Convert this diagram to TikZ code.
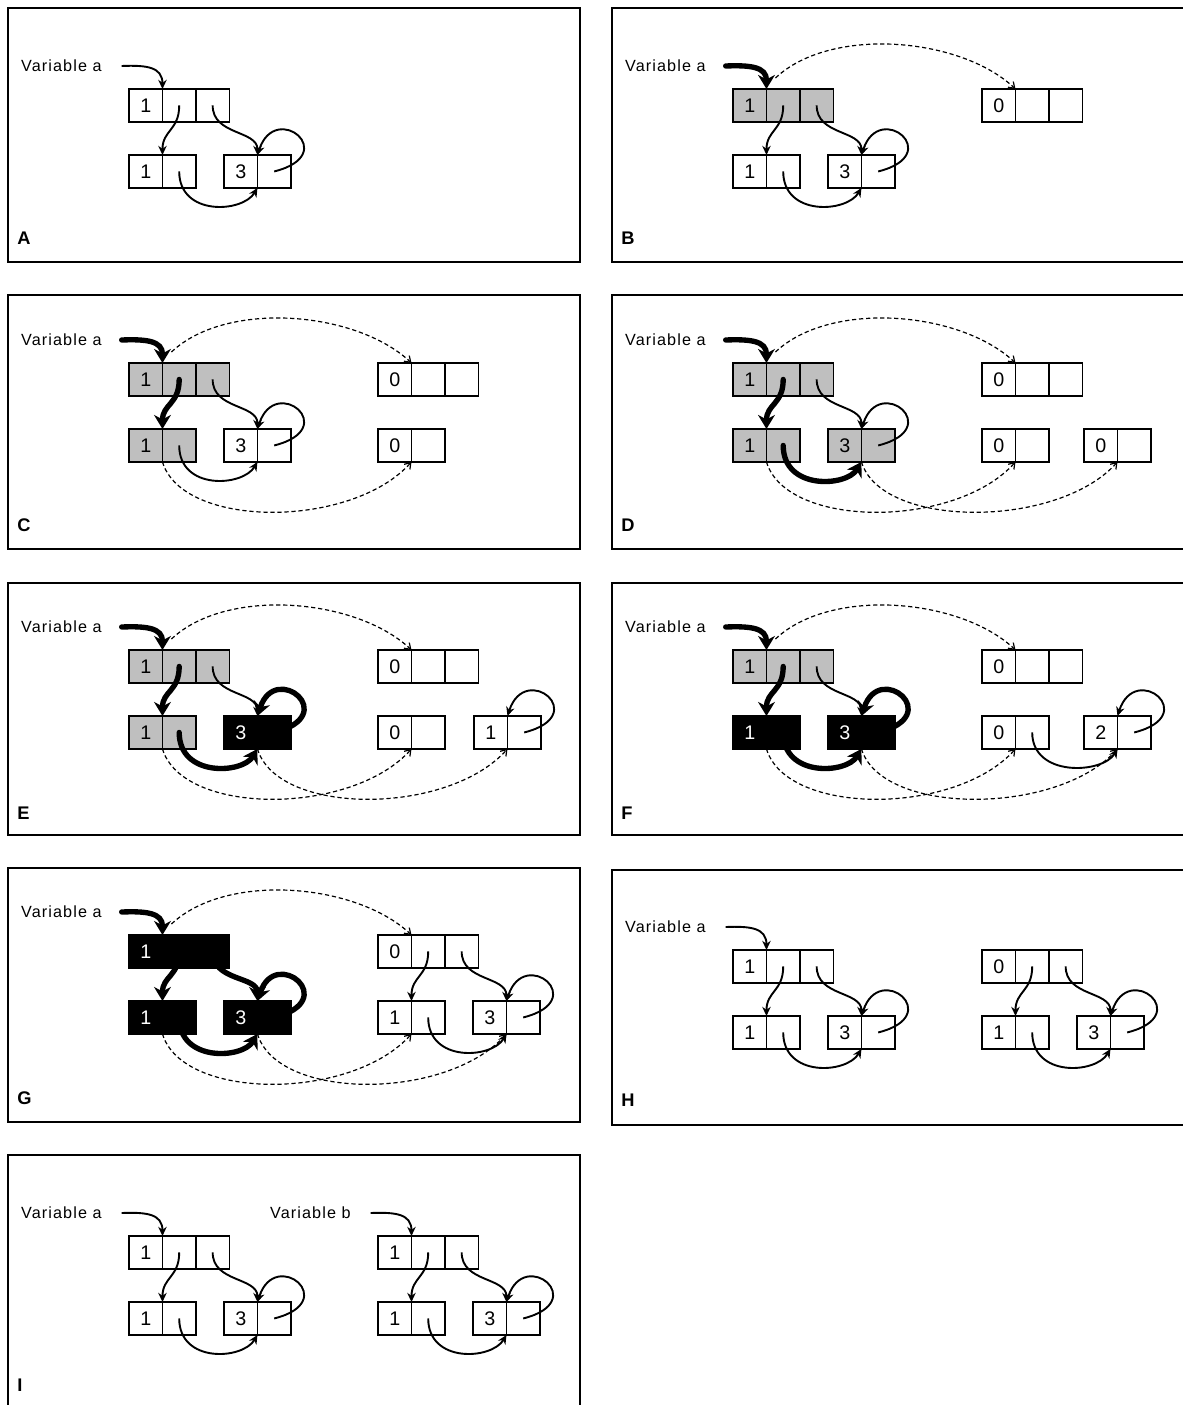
\documentclass[tikz,border=0pt]{standalone}
\usepackage{fontspec}
\setmainfont{Liberation Sans}
\usetikzlibrary{arrows.meta}

% registro de n células lado a lado: nome, canto, n, valor, estilo
\newcommand{\celulas}[5]{%
  \node[cel,#5] (#11) at #2 {#4};
  \foreach \cel [remember=\cel as \ant (initially 1)] in {2,...,#3}
    \node[cel,#5] (#1\cel) at (#1\ant.north east) {};
}
% árvore: registro de 3 e dois pares; nome, x, y, valores, variável
\newcommand{\arvore}[7]{%
  \celulas{#1-r}{(#2,#3)}{3}{#4}{raiz}
  \celulas{#1-e}{(#2,#3+66)}{2}{#5}{esq}
  \celulas{#1-d}{(#2+95,#3+66)}{2}{#6}{dir}
  \draw[f-esq] (#1-r2.center) .. controls +(0,25) and +(0,-25) .. (#1-e2.north west);
  \draw[f-dir] (#1-r3.center) .. controls +(0,30) and +(0,-25) .. (#1-d2.north west);
  \draw[f-laco] (#1-d2.center) .. controls +(68,-17) and +(18,-55) .. (#1-d2.north west);
  \draw[f-baixo] (#1-e2.center) .. controls +(0,45) and +(-15,25) .. (#1-d2.south west);
  \ifx\relax#7\relax\else
    \node[var] (#1-v) at (#2-27,#3-23) {#7};
    \draw[f-var] ([xshift=14pt]#1-v.east) .. controls +(25,-1) and +(0,-22) .. (#1-r2.north west);
  \fi
}

\begin{document}
\begin{tikzpicture}[x=0.025cm,y=-0.025cm,
  cel/.style={draw,line width=0.9pt,minimum width=23.8pt,minimum height=23.4pt,
    inner sep=0pt,outer sep=0pt,anchor=north west,font=\fontsize{14}{16}\selectfont},
  branco/.style={fill=white},
  cinza/.style={fill=black!25},
  preto/.style={fill=black,text=white},
  fino/.style={line width=1.35pt,-{Stealth[length=6.5pt,width=6pt]}},
  grosso/.style={line width=3.8pt,line cap=round,-{Stealth[length=10pt,width=12pt]}},
  tracejado/.style={line width=0.85pt,dash pattern=on 3pt off 2pt,
    -{Straight Barb[length=4pt,width=5.5pt]}},
  var/.style={anchor=east,inner sep=0pt,
    font=\fontsize{11.5}{13}\selectfont\addfontfeature{LetterSpace=7}},
  rotulo/.style={anchor=west,inner sep=0pt,font=\bfseries\fontsize{13}{15}\selectfont},
  moldura/.style={line width=1.2pt},
  raiz/.style=branco, esq/.style=branco, dir/.style=branco,
  f-var/.style=fino, f-esq/.style=fino, f-dir/.style=fino,
  f-laco/.style=fino, f-baixo/.style=fino]
  \useasboundingbox (0,0) rectangle (1182,1405);
  % molduras e letras dos quadros
  \foreach \p/\x/\y/\h in {A/8/8/254, B/612/8/254, C/8/295/254, D/612/295/254,
      E/8/583/252, F/612/583/252, G/8/868/254, H/612/870/255, I/8/1155/270} {
    \draw[moldura] (\x,\y) rectangle ++(572,\h);
    \node[rotulo] (rot-\p) at (\x+9,\y+230) {\p};
  }
  % A: estrutura original
  \arvore{A}{129}{89}{1}{1}{3}{Variable a}
  % B: raiz copiada
  \begin{scope}[raiz/.style=cinza, f-var/.style=grosso]
    \arvore{B}{733}{89}{1}{1}{3}{Variable a}
  \end{scope}
  \celulas{B-s}{(982,89)}{3}{0}{branco}
  \draw[tracejado] ([shift={(9,-11)}]B-r2.north west) .. controls +(55,-52) and +(-55,-52) .. (B-s2.north west);
  % C: primeiro par copiado
  \begin{scope}[raiz/.style=cinza, esq/.style=cinza, f-var/.style=grosso, f-esq/.style=grosso]
    \arvore{C}{129}{363}{1}{1}{3}{Variable a}
  \end{scope}
  \celulas{C-s}{(378,363)}{3}{0}{branco}
  \celulas{C-t}{(378,429)}{2}{0}{branco}
  \draw[tracejado] ([shift={(9,-11)}]C-r2.north west) .. controls +(55,-52) and +(-55,-52) .. (C-s2.north west);
  \draw[tracejado] (C-e2.south west) .. controls +(20,67) and +(-60,67) .. (C-t2.south west);
  % D: segundo par copiado
  \begin{scope}[raiz/.style=cinza, esq/.style=cinza, dir/.style=cinza,
      f-var/.style=grosso, f-esq/.style=grosso, f-baixo/.style=grosso]
    \arvore{D}{733}{363}{1}{1}{3}{Variable a}
  \end{scope}
  \celulas{D-s}{(982,363)}{3}{0}{branco}
  \celulas{D-t}{(982,429)}{2}{0}{branco}
  \celulas{D-u}{(1084,429)}{2}{0}{branco}
  \draw[tracejado] ([shift={(9,-11)}]D-r2.north west) .. controls +(55,-52) and +(-55,-52) .. (D-s2.north west);
  \draw[tracejado] (D-e2.south west) .. controls +(20,67) and +(-60,67) .. (D-t2.south west);
  \draw[tracejado] (D-d2.south west) .. controls +(20,67) and +(-60,67) .. (D-u2.south west);
  % E: par do 3 terminado
  \begin{scope}[raiz/.style=cinza, esq/.style=cinza, dir/.style=preto,
      f-var/.style=grosso, f-esq/.style=grosso, f-laco/.style=grosso, f-baixo/.style=grosso]
    \arvore{E}{129}{650}{1}{1}{3}{Variable a}
  \end{scope}
  \celulas{E-s}{(378,650)}{3}{0}{branco}
  \celulas{E-t}{(378,716)}{2}{0}{branco}
  \celulas{E-u}{(474,716)}{2}{1}{branco}
  \draw[fino] (E-u2.center) .. controls +(68,-17) and +(18,-55) .. (E-u2.north west);
  \draw[tracejado] ([shift={(9,-11)}]E-r2.north west) .. controls +(55,-52) and +(-55,-52) .. (E-s2.north west);
  \draw[tracejado] (E-e2.south west) .. controls +(20,67) and +(-60,67) .. (E-t2.south west);
  \draw[tracejado] (E-d2.south west) .. controls +(20,67) and +(-60,67) .. (E-u2.south west);
  % F: par do 1 terminado
  \begin{scope}[raiz/.style=cinza, esq/.style=preto, dir/.style=preto,
      f-var/.style=grosso, f-esq/.style=grosso, f-laco/.style=grosso, f-baixo/.style=grosso]
    \arvore{F}{733}{650}{1}{1}{3}{Variable a}
  \end{scope}
  \celulas{F-s}{(982,650)}{3}{0}{branco}
  \celulas{F-t}{(982,716)}{2}{0}{branco}
  \celulas{F-u}{(1084,716)}{2}{2}{branco}
  \draw[fino] (F-t2.center) .. controls +(0,45) and +(-15,25) .. (F-u2.south west);
  \draw[fino] (F-u2.center) .. controls +(68,-17) and +(18,-55) .. (F-u2.north west);
  \draw[tracejado] ([shift={(9,-11)}]F-r2.north west) .. controls +(55,-52) and +(-55,-52) .. (F-s2.north west);
  \draw[tracejado] (F-e2.south west) .. controls +(20,67) and +(-60,67) .. (F-t2.south west);
  \draw[tracejado] (F-d2.south west) .. controls +(20,67) and +(-60,67) .. (F-u2.south west);
  % G: tudo terminado
  \begin{scope}[raiz/.style=preto, esq/.style=preto, dir/.style=preto,
      f-var/.style=grosso, f-esq/.style=grosso, f-dir/.style=grosso,
      f-laco/.style=grosso, f-baixo/.style=grosso]
    \arvore{G}{129}{935}{1}{1}{3}{Variable a}
  \end{scope}
  \arvore{G2}{378}{935}{0}{1}{3}{}
  \draw[tracejado] ([shift={(9,-11)}]G-r2.north west) .. controls +(55,-52) and +(-55,-52) .. (G2-r2.north west);
  \draw[tracejado] (G-e2.south west) .. controls +(20,67) and +(-60,67) .. (G2-e2.south west);
  \draw[tracejado] (G-d2.south west) .. controls +(20,67) and +(-60,67) .. (G2-d2.south west);
  % H: original e cópia
  \arvore{H}{733}{950}{1}{1}{3}{Variable a}
  \arvore{H2}{982}{950}{0}{1}{3}{}
  % I: duas variáveis
  \arvore{I}{129}{1236}{1}{1}{3}{Variable a}
  \arvore{I2}{378}{1236}{1}{1}{3}{Variable b}
\end{tikzpicture}
\end{document}
